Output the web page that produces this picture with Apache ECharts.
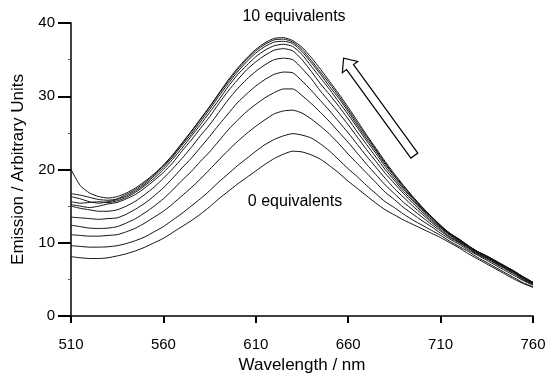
<!DOCTYPE html>
<html>
<head>
<meta charset="utf-8">
<script src="https://cdn.jsdelivr.net/npm/echarts@6/dist/echarts.min.js"></script>
<style>
html,body{margin:0;padding:0;background:#fff;}
#chart{width:546px;height:375px;}
</style>
</head>
<body>
<div id="chart"></div>
<script>
const wavelengths = [510,515,520,525,530,535,540,545,550,555,560,565,570,575,580,585,590,595,600,605,610,615,620,625,630,635,640,645,650,655,660,665,670,675,680,685,690,695,700,705,710,715,720,725,730,735,740,745,750,755,760];

const eq0  = [8.1,7.95,7.85,7.85,7.95,8.2,8.5,8.9,9.4,10.0,10.6,11.4,12.2,13.0,13.9,14.9,16.0,17.0,18.0,18.9,19.8,20.7,21.5,22.1,22.5,22.4,22.0,21.4,20.5,19.5,18.4,17.4,16.4,15.4,14.5,13.8,13.1,12.5,11.9,11.3,10.7,10.0,9.3,8.5,7.8,7.1,6.4,5.7,5.0,4.4,3.9];
const eq1  = [9.6,9.5,9.4,9.4,9.45,9.6,9.9,10.3,10.8,11.5,12.2,13.1,14.0,15.0,16.0,17.1,18.3,19.4,20.5,21.5,22.5,23.4,24.1,24.6,24.9,24.7,24.3,23.5,22.5,21.3,20.1,19.0,17.8,16.7,15.6,14.8,13.9,13.1,12.4,11.7,11.0,10.2,9.5,8.8,8.0,7.3,6.6,5.9,5.2,4.5,4.0];
const eq2  = [11.1,11.0,10.9,10.9,11.0,11.1,11.5,12.0,12.7,13.5,14.3,15.3,16.4,17.5,18.7,20.0,21.3,22.6,23.8,24.9,25.9,26.8,27.6,28.0,28.1,27.7,26.9,25.9,24.8,23.5,22.1,20.8,19.5,18.2,16.9,15.9,14.8,13.9,13.0,12.2,11.3,10.5,9.8,9.0,8.3,7.6,6.9,6.2,5.5,4.8,4.2];
const eq3  = [12.4,12.2,12.0,11.95,12.0,12.2,12.7,13.3,14.1,15.0,16.0,17.2,18.5,19.7,21.1,22.4,23.9,25.4,26.7,27.9,28.9,29.8,30.5,31.0,31.0,30.1,29.0,27.8,26.5,25.1,23.7,22.2,20.7,19.3,17.9,16.7,15.5,14.5,13.5,12.5,11.6,10.7,10.0,9.2,8.4,7.8,7.1,6.4,5.7,4.9,4.3];
const eq4  = [13.5,13.4,13.3,13.2,13.3,13.4,13.9,14.6,15.4,16.4,17.5,18.8,20.2,21.5,23.0,24.5,26.1,27.6,29.1,30.3,31.4,32.3,33.0,33.3,33.2,32.1,30.8,29.4,28.0,26.5,25.0,23.4,21.8,20.3,18.8,17.4,16.2,15.0,13.9,12.8,11.8,10.8,10.1,9.3,8.5,7.9,7.2,6.5,5.8,5.0,4.4];
const eq5  = [15.0,14.7,14.5,14.3,14.3,14.5,15.0,15.7,16.6,17.6,18.8,20.1,21.5,23.0,24.6,26.1,27.8,29.5,31.0,32.3,33.4,34.3,35.0,35.2,35.0,33.8,32.4,30.7,29.2,27.7,26.1,24.4,22.7,21.1,19.5,18.1,16.7,15.4,14.2,13.0,12.0,11.0,10.2,9.4,8.6,8.0,7.3,6.6,5.9,5.1,4.4];
const eq6  = [15.2,15.0,14.8,15.0,15.3,15.5,16.0,16.6,17.5,18.5,19.6,20.9,22.5,24.0,25.6,27.2,29.0,30.7,32.2,33.6,34.7,35.6,36.3,36.5,36.2,35.0,33.4,31.7,30.2,28.6,26.9,25.1,23.4,21.7,20.0,18.5,17.0,15.7,14.4,13.2,12.1,11.1,10.3,9.5,8.7,8.1,7.4,6.7,6.0,5.2,4.5];
const eq7  = [15.6,15.4,15.5,15.6,15.5,15.7,16.2,16.9,17.8,18.8,20.0,21.4,22.9,24.5,26.1,27.8,29.5,31.3,32.9,34.2,35.4,36.3,36.9,37.1,36.8,35.7,34.1,32.5,30.9,29.2,27.5,25.7,23.9,22.2,20.4,18.8,17.3,15.9,14.6,13.4,12.2,11.2,10.4,9.5,8.7,8.1,7.4,6.7,6.0,5.2,4.5];
const eq8  = [16.3,16.0,15.6,15.4,15.6,15.9,16.4,17.1,18.0,19.1,20.3,21.7,23.3,24.8,26.5,28.2,30.0,31.7,33.3,34.7,35.9,36.8,37.4,37.5,37.2,36.1,34.6,33.0,31.3,29.7,27.9,26.0,24.2,22.5,20.7,19.1,17.5,16.1,14.7,13.5,12.3,11.2,10.4,9.5,8.8,8.1,7.4,6.7,6.0,5.3,4.6];
const eq9  = [16.7,16.5,16.2,15.9,15.8,16.0,16.6,17.3,18.2,19.3,20.5,21.9,23.5,25.1,26.8,28.5,30.3,32.0,33.6,35.0,36.2,37.1,37.7,37.8,37.4,36.4,34.9,33.3,31.7,30.0,28.2,26.3,24.5,22.7,20.9,19.2,17.7,16.2,14.8,13.5,12.3,11.3,10.5,9.6,8.8,8.2,7.5,6.8,6.1,5.3,4.6];
const eq10 = [20.0,17.8,16.8,16.3,16.1,16.3,16.8,17.5,18.4,19.4,20.6,22.0,23.6,25.2,26.9,28.6,30.4,32.2,33.8,35.2,36.4,37.3,37.9,38.0,37.6,36.7,35.3,33.7,32.0,30.3,28.5,26.6,24.7,22.9,21.1,19.4,17.8,16.3,14.9,13.6,12.4,11.3,10.5,9.6,8.8,8.2,7.5,6.8,6.1,5.3,4.6];

const spectra = [eq0,eq1,eq2,eq3,eq4,eq5,eq6,eq7,eq8,eq9,eq10];
const xTicks = [510,560,610,660,710,760];
const yTicks = [0,10,20,30,40];

const FONT = '"Liberation Sans", Arial, sans-serif';
const chart = echarts.init(document.getElementById('chart'), null, {renderer:'canvas'});

const series = spectra.map((arr, i) => ({
  type: 'line',
  name: i + ' equivalents',
  data: wavelengths.map((w, j) => [w, arr[j]]),
  symbol: 'none',
  smooth: 0.2,
  lineStyle: {color: '#111', width: 1},
  silent: true,
  z: 2
}));

chart.setOption({
  animation: false,
  backgroundColor: '#fff',
  grid: {left: 71, right: 13, top: 23, bottom: 59, containLabel: false, outerBoundsMode: 'none'},
  xAxis: {
    type: 'value',
    min: xTicks[0], max: xTicks[xTicks.length-1], interval: 50,
    name: 'Wavelength / nm', nameLocation: 'middle', nameGap: 38,
    nameTextStyle: {fontFamily: FONT, fontSize: 17, color: '#000'},
    axisLine: {show: true, lineStyle: {color: '#000', width: 1.5}},
    axisTick: {show: true, inside: false, length: 7, lineStyle: {color: '#000', width: 2}},
    axisLabel: {fontFamily: FONT, fontSize: 15, color: '#000', margin: 21},
    splitLine: {show: false}
  },
  yAxis: {
    type: 'value',
    min: yTicks[0], max: yTicks[yTicks.length-1], interval: 10,
    name: 'Emission / Arbitrary Units', nameLocation: 'middle', nameGap: 44,
    nameTextStyle: {fontFamily: FONT, fontSize: 17, color: '#000'},
    axisLine: {show: true, lineStyle: {color: '#000', width: 1.5}},
    axisTick: {show: true, inside: false, length: 13, lineStyle: {color: '#000', width: 2}},
    minorTick: {show: true, splitNumber: 2, length: 3, lineStyle: {color: '#555', width: 1}},
    axisLabel: {fontFamily: FONT, fontSize: 15, color: '#000', margin: 16},
    splitLine: {show: false}
  },
  series: series
});

// annotation arrow (hollow) from data-space tail to tip
const tip = chart.convertToPixel({gridIndex: 0}, [657.5, 35.2]);
const tail = chart.convertToPixel({gridIndex: 0}, [695.8, 21.9]);
const dx = tip[0] - tail[0], dy = tip[1] - tail[1];
const len = Math.sqrt(dx*dx + dy*dy);
const ux = dx/len, uy = dy/len, nx = -uy, ny = ux;
const sw = 4.3, hw = 9.5, hl = 11;
const bx = tip[0] - ux*hl, by = tip[1] - uy*hl;
const pts = [
  [tail[0] + nx*sw, tail[1] + ny*sw],
  [bx + nx*sw, by + ny*sw],
  [bx + nx*hw, by + ny*hw],
  [tip[0], tip[1]],
  [bx - nx*hw, by - ny*hw],
  [bx - nx*sw, by - ny*sw],
  [tail[0] - nx*sw, tail[1] - ny*sw]
];

chart.setOption({
  graphic: [
    {type: 'polygon', shape: {points: pts}, style: {fill: '#fff', stroke: '#000', lineWidth: 1.2}, z: 10},
    {type: 'text', x: 294, y: 17, style: {text: '10 equivalents', font: '16px ' + FONT, fill: '#000', textAlign: 'center', textVerticalAlign: 'middle'}, z: 10},
    {type: 'text', x: 295, y: 202, style: {text: '0 equivalents', font: '16px ' + FONT, fill: '#000', textAlign: 'center', textVerticalAlign: 'middle'}, z: 10}
  ]
});
</script>
</body>
</html>
